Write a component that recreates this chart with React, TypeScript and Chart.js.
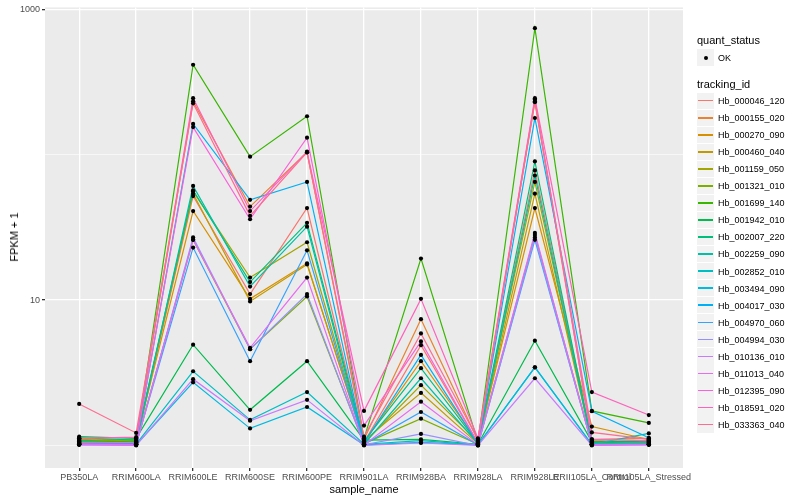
import React, { useEffect, useRef } from "react";
import { Chart, registerables } from "chart.js";
Chart.register(...registerables);

const samples = [
  "PB350LA", "RRIM600LA", "RRIM600LE", "RRIM600SE", "RRIM600PE", "RRIM901LA",
  "RRIM928BA", "RRIM928LA", "RRIM928LE", "RRII105LA_Control", "RRII105LA_Stressed",
];

const trackingIds = [
  "Hb_000046_120", "Hb_000155_020", "Hb_000270_090", "Hb_000460_040", "Hb_001159_050",
  "Hb_001321_010", "Hb_001699_140", "Hb_001942_010", "Hb_002007_220", "Hb_002259_090",
  "Hb_002852_010", "Hb_003494_090", "Hb_004017_030", "Hb_004970_060", "Hb_004994_030",
  "Hb_010136_010", "Hb_011013_040", "Hb_012395_090", "Hb_018591_020", "Hb_033363_040",
];

const colors = [
  "#F8766D", "#EA8331", "#D89000", "#C09B00", "#A3A500", "#7CAE00", "#39B600", "#00BB4E",
  "#00BF7D", "#00C1A3", "#00BFC4", "#00BAE0", "#00B0F6", "#35A2FF", "#9590FF", "#C77CFF",
  "#E76BF3", "#FA62DB", "#FF62BC", "#FF6C91",
];

// FPKM + 1 per sample (order of `samples`)
const hb000046_120 = [1.06, 1.04, 52, 11, 43, 1.05, 4.9, 1.04, 78, 1.08, 1.06];
const hb000155_020 = [1.05, 1.1, 233, 44, 104, 1.1, 7.4, 1.08, 230, 1.1, 1.12];
const hb000270_090 = [1.12, 1.08, 41, 10.2, 17.9, 1.06, 3.8, 1.05, 43, 1.35, 1.1];
const hb000460_040 = [1.1, 1.07, 54, 9.8, 17.6, 1.08, 2.3, 1.03, 54, 1.05, 1.08];
const hb001159_050 = [1.09, 1.05, 56, 14.3, 25, 1.04, 2.6, 1.06, 65, 1.07, 1.05];
const hb001321_010 = [1.04, 1.03, 26, 4.6, 10.6, 1.03, 1.53, 1.02, 28, 1.03, 1.04];
const hb001699_140 = [1.08, 1.06, 416, 97, 184, 1.12, 19.3, 1.06, 743, 1.73, 1.43];
const hb001942_010 = [1.15, 1.12, 4.94, 1.76, 3.8, 1.09, 1.1, 1.02, 5.26, 1.06, 1.07];
const hb002007_220 = [1.13, 1.09, 57, 13.3, 34, 1.07, 3.4, 1.04, 90, 1.05, 1.04];
const hb002259_090 = [1.07, 1.02, 61, 12.4, 32, 1.02, 2.9, 1.03, 72, 1.02, 1.21];
const hb002852_010 = [1.03, 1.02, 3.24, 1.5, 2.33, 1.02, 1.08, 1.01, 3.45, 1.02, 1.03];
const hb003494_090 = [1.02, 1.01, 2.72, 1.31, 1.84, 1.01, 1.05, 1.01, 3.45, 1.01, 1.02];
const hb004017_030 = [1.03, 1.04, 163, 49, 65, 1.04, 4.2, 1.03, 179, 1.72, 1.13];
const hb004970_060 = [1.02, 1.02, 23, 3.8, 22, 1.02, 1.7, 1.01, 26, 1.02, 1.02];
const hb004994_030 = [1.01, 1.01, 27, 4.6, 11, 1.01, 1.2, 1.0, 27, 1.01, 1.01];
const hb010136_010 = [1.01, 1.0, 2.86, 1.48, 2.06, 1.0, 1.04, 1.0, 2.9, 1.0, 1.01];
const hb011013_040 = [1.02, 1.01, 26, 4.7, 14.3, 1.01, 2.0, 1.01, 29, 1.01, 1.02];
const hb012395_090 = [1.04, 1.05, 155, 36, 131, 1.37, 5.2, 1.04, 240, 1.1, 1.08];
const hb018591_020 = [1.12, 1.14, 245, 41, 105, 1.73, 10.2, 1.12, 245, 2.33, 1.62];
const hb033363_040 = [1.93, 1.22, 226, 38, 104, 1.15, 5.9, 1.1, 233, 1.23, 1.1];

const seriesValues = [
  hb000046_120, hb000155_020, hb000270_090, hb000460_040, hb001159_050,
  hb001321_010, hb001699_140, hb001942_010, hb002007_220, hb002259_090,
  hb002852_010, hb003494_090, hb004017_030, hb004970_060, hb004994_030,
  hb010136_010, hb011013_040, hb012395_090, hb018591_020, hb033363_040,
];

const yTickValues = [1, 10, 100, 1000];
const yLabelled = [10, 1000];

const FONT = "'Liberation Sans', Arial, Helvetica, sans-serif";

export default function App() {
  const ref = useRef<HTMLCanvasElement | null>(null);

  useEffect(() => {
    if (!ref.current) return;
    const lineSets = seriesValues.map((vals, i) => ({
      type: "line" as const,
      label: trackingIds[i],
      data: vals.map((v, j) => ({ x: j, y: v })),
      borderColor: colors[i],
      backgroundColor: colors[i],
      borderWidth: 1.2,
      pointRadius: 0,
      tension: 0,
      order: 100 - i,
    }));
    const pts: { x: number; y: number }[] = [];
    seriesValues.forEach((vals) => vals.forEach((v, j) => pts.push({ x: j, y: v })));
    const pointSet = {
      type: "scatter" as const,
      label: "OK",
      data: pts,
      pointRadius: 2.1,
      pointBackgroundColor: "#000",
      pointBorderWidth: 0,
      showLine: false,
      order: 0,
    };

    const chart = new Chart(ref.current, {
      type: "line",
      data: { datasets: [...lineSets, pointSet] as any },
      options: {
        animation: false,
        responsive: false,
        devicePixelRatio: 1,
        layout: { padding: { left: 0, top: 5, right: 117, bottom: 0 } },
        plugins: { legend: { display: false }, tooltip: { enabled: false } },
        scales: {
          x: {
            type: "linear",
            min: -0.6,
            max: samples.length - 1 + 0.6,
            afterBuildTicks: (s: any) => {
              s.ticks = samples.map((_, i) => ({ value: i }));
            },
            afterFit: (s: any) => {
              s.height = 32;
            },
            ticks: {
              callback: (v: any) => samples[v as number] ?? "",
              color: "#4D4D4D",
              font: { family: FONT, size: 9 },
              padding: 1,
              maxRotation: 0,
              minRotation: 0,
              autoSkip: false,
            },
            grid: {
              color: "#FFFFFF",
              lineWidth: 1.3,
              tickColor: "#333333",
              tickLength: 3,
              drawTicks: true,
            },
            border: { display: false },
          },
          y: {
            type: "logarithmic",
            min: 0.73,
            max: 1032,
            afterBuildTicks: (s: any) => {
              s.ticks = yTickValues.map((v) => ({ value: v }));
            },
            afterFit: (s: any) => {
              s.width = 45;
            },
            ticks: {
              callback: (v: any) => (yLabelled.includes(v as number) ? String(v) : ""),
              color: "#4D4D4D",
              font: { family: FONT, size: 9 },
              padding: 2,
              autoSkip: false,
            },
            grid: {
              color: "#FFFFFF",
              lineWidth: (c: any) => (yLabelled.includes(c.tick?.value) ? 1.3 : 0.6),
              tickColor: (c: any) => (yLabelled.includes(c.tick?.value) ? "#333333" : "rgba(0,0,0,0)"),
              tickLength: 3,
              drawTicks: true,
            },
            border: { display: false },
          },
        },
      },
      plugins: [
        {
          id: "panelBg",
          beforeDraw: (c: any) => {
            const { ctx, chartArea } = c;
            ctx.save();
            ctx.fillStyle = "#EBEBEB";
            ctx.fillRect(chartArea.left, chartArea.top, chartArea.right - chartArea.left, chartArea.bottom - chartArea.top);
            ctx.restore();
          },
        },
      ],
    });
    return () => chart.destroy();
  }, []);

  const keyTop0 = 92.5;
  const step = 17.05;

  return (
    <div style={{ position: "fixed", left: 0, top: 0, width: 800, height: 500, background: "#fff", fontFamily: FONT }}>
      <canvas ref={ref} width={800} height={500} style={{ position: "absolute", left: 0, top: 0, width: 800, height: 500 }} />
      <div style={{ position: "absolute", left: 14, top: 237, transform: "translate(-50%, -50%) rotate(-90deg)", fontSize: 11, color: "#000", whiteSpace: "nowrap" }}>
        FPKM + 1
      </div>
      <div style={{ position: "absolute", left: 364, top: 489, transform: "translate(-50%, -50%)", fontSize: 11, color: "#000", whiteSpace: "nowrap" }}>
        sample_name
      </div>
      <div style={{ position: "absolute", left: 697, top: 40, transform: "translateY(-50%)", fontSize: 11, color: "#000", whiteSpace: "nowrap" }}>
        quant_status
      </div>
      <div style={{ position: "absolute", left: 697, top: 49, width: 17, height: 17, background: "#F2F2F2" }}>
        <div style={{ position: "absolute", left: 6.5, top: 6.5, width: 4, height: 4, borderRadius: 2, background: "#000" }} />
      </div>
      <div style={{ position: "absolute", left: 718, top: 57.5, transform: "translateY(-50%)", fontSize: 9, color: "#000", whiteSpace: "nowrap" }}>
        OK
      </div>
      <div style={{ position: "absolute", left: 697, top: 84, transform: "translateY(-50%)", fontSize: 11, color: "#000", whiteSpace: "nowrap" }}>
        tracking_id
      </div>
      {trackingIds.map((id, i) => (
        <React.Fragment key={id}>
          <div style={{ position: "absolute", left: 697, top: keyTop0 + i * step, width: 17, height: 16.3, background: "#F2F2F2" }}>
            <div style={{ position: "absolute", left: 1, right: 1, top: 7.4, height: 1.6, background: colors[i] }} />
          </div>
          <div style={{ position: "absolute", left: 718, top: keyTop0 + 8.5 + i * step, transform: "translateY(-50%)", fontSize: 9, color: "#000", whiteSpace: "nowrap" }}>
            {id}
          </div>
        </React.Fragment>
      ))}
    </div>
  );
}
